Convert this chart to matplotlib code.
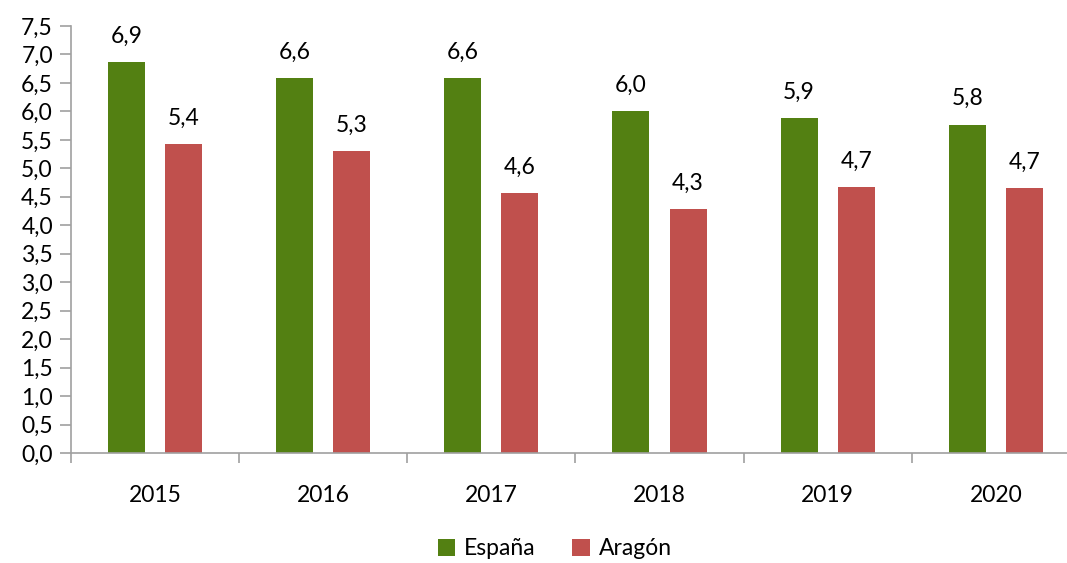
import numpy as np
import matplotlib.pyplot as plt
from matplotlib.ticker import FixedLocator, FuncFormatter

years = ["2015", "2016", "2017", "2018", "2019", "2020"]
espana = [6.87, 6.58, 6.58, 6.00, 5.88, 5.77]
aragon = [5.42, 5.31, 4.57, 4.29, 4.67, 4.66]
series_names = ["España", "Aragón"]
colors = ["#538012", "#C0504D"]

plt.rcParams["font.family"] = ["Lato", "DejaVu Sans"]

fig = plt.figure(figsize=(10.67, 5.63), dpi=100)
ax = fig.add_axes([0.0665, 0.1954, 0.9456, 0.7584])

x = np.arange(len(years))
w = 0.22
off = 0.17
b1 = ax.bar(x - off, espana, w, color=colors[0], label=series_names[0])
b2 = ax.bar(x + off, aragon, w, color=colors[1], label=series_names[1])

for bars, vals in ((b1, espana), (b2, aragon)):
    for rect, v in zip(bars, vals):
        ax.annotate(f"{v:.1f}".replace(".", ","),
                    (rect.get_x() + rect.get_width() / 2, v),
                    xytext=(0, 11), textcoords="offset points",
                    ha="center", va="bottom", fontsize=16.5)

ax.set_ylim(0, 7.5)
ax.set_xlim(-0.5, len(years) - 0.5)
ax.set_yticks(np.arange(0, 7.51, 0.5))
ax.yaxis.set_major_formatter(FuncFormatter(lambda v, p: f"{v:.1f}".replace(".", ",")))

ax.xaxis.set_major_locator(FixedLocator(np.arange(-0.5, len(years), 1.0)))
ax.xaxis.set_minor_locator(FixedLocator(x))
ax.set_xticklabels([], minor=False)
ax.set_xticklabels(years, minor=True)
ax.tick_params(axis="x", which="major", length=7, color="#a0a0a0", width=1.2)
ax.tick_params(axis="x", which="minor", length=0, pad=23, labelsize=16.5)
ax.tick_params(axis="y", length=8, color="#a0a0a0", width=1.2, labelsize=16.5, pad=5)

for s in ["top", "right"]:
    ax.spines[s].set_visible(False)
for s in ["left", "bottom"]:
    ax.spines[s].set_color("#a0a0a0")
    ax.spines[s].set_linewidth(1.2)

fig.legend(handles=[b1, b2], labels=series_names, loc="lower center",
           bbox_to_anchor=(0.520, -0.03), ncol=2, frameon=False,
           fontsize=16.5, handlelength=0.75, handleheight=0.75,
           handletextpad=0.4, columnspacing=1.6)

fig.savefig("out.png", dpi=100)
